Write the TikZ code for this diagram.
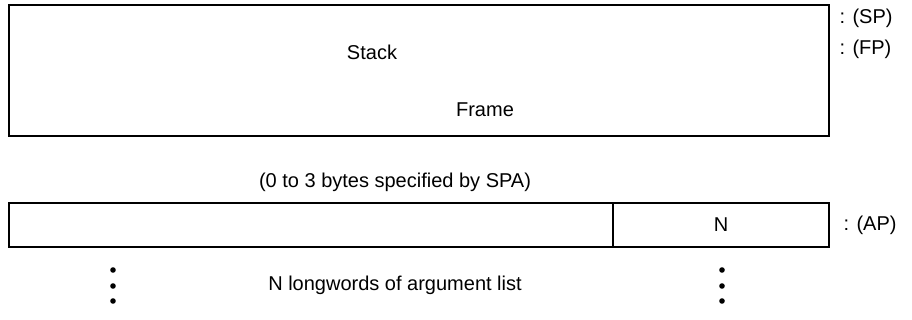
\documentclass[tikz,border=0pt]{standalone}
\usepackage{fontspec}
\setmainfont{Liberation Sans}
\begin{document}
\begin{tikzpicture}[x=1pt,y=1pt,
  font=\fontsize{20}{23}\selectfont,
  frame/.style={draw=black,line width=1.6pt},
  vdot/.style={fill=black,radius=2.8}]
  \path[use as bounding box] (0,0) rectangle (912,320);
  % stack frame block
  \draw[frame] (9,315) rectangle (829,184);
  \node (stack) at (372,268) {Stack};
  \node (frame) at (485,210) {Frame};
  \node[anchor=west] (sp) at (836,302) {: (SP)};
  \node[anchor=west] (fp) at (836,271) {: (FP)};
  \node (spa) at (395,138) {(0 to 3 bytes specified by SPA)};
  % argument list block
  \draw[frame] (9,117) rectangle (829,73);
  \draw[frame,line width=1.2pt] (613,117)--(613,73);
  \node (n) at (721,95) {N};
  \node[anchor=west] (ap) at (840,95) {: (AP)};
  \node (args) at (395,35) {N longwords of argument list};
  \foreach \y in {50,34,19} {
    \fill[vdot] (113,\y) circle;
    \fill[vdot] (722,\y) circle;
  }
\end{tikzpicture}
\end{document}
